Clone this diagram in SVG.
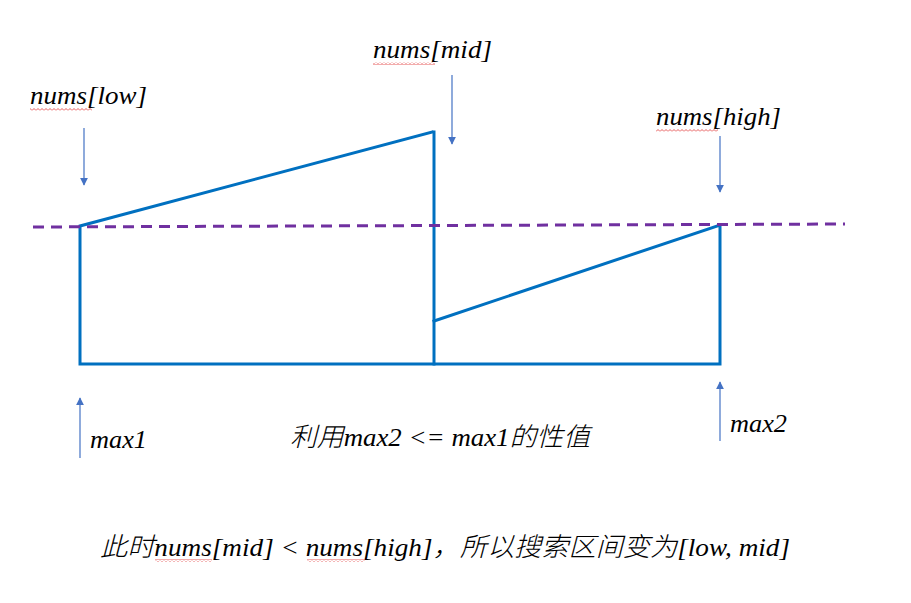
<svg xmlns="http://www.w3.org/2000/svg" width="911" height="603" viewBox="0 0 911 603">
<defs>
<marker id="ah" viewBox="0 0 10 10" refX="9" refY="5" markerWidth="8" markerHeight="8" markerUnits="userSpaceOnUse" orient="auto">
<path d="M0,0 L10,5 L0,10 z" fill="#4472C4"/>
</marker>
<pattern id="wave" x="0" y="0" width="4" height="3" patternUnits="userSpaceOnUse">
<polyline points="0,2.5 2,0.5 4,2.5" fill="none" stroke="#E03030" stroke-width="0.8"/>
</pattern>
<style>
.shape{fill:none;stroke:#0070C0;stroke-width:3;stroke-linecap:square;stroke-linejoin:miter}
.dash{fill:none;stroke:#7030A0;stroke-width:3;stroke-dasharray:11 7}
.arr{stroke:#4472C4;stroke-width:1.2;fill:none;marker-end:url(#ah)}
.t{font-family:"Liberation Serif","Times New Roman",serif;font-style:italic;font-size:26px;fill:#000}
.c{font-family:"Noto Sans CJK SC",sans-serif;font-style:italic;font-weight:300}
.sq{fill:url(#wave)}
</style>
</defs>
<rect width="911" height="603" fill="#fff"/>
<g id="shape">
<polyline class="shape" points="432,132 80,226 80,364 720,364 720,225 434,321"/>
<line class="shape" x1="434" y1="132" x2="434" y2="364"/>
</g>
<g id="threshold">
<line class="dash" x1="33" y1="227" x2="845" y2="224"/>
</g>
<g id="connectors">
<line class="arr" x1="84" y1="128" x2="84" y2="185"/>
<line class="arr" x1="452" y1="75" x2="452" y2="144"/>
<line class="arr" x1="720" y1="136" x2="720" y2="192"/>
<line class="arr" x1="80" y1="458" x2="80" y2="398"/>
<line class="arr" x1="720" y1="441" x2="720" y2="382"/>
</g>
<g id="label-low"><text class="t" x="30" y="104" textLength="117" lengthAdjust="spacingAndGlyphs">nums[low]</text><rect class="sq" x="30" y="108" width="62" height="3"/></g>
<g id="label-mid"><text class="t" x="373" y="58" textLength="119" lengthAdjust="spacingAndGlyphs">nums[mid]</text><rect class="sq" x="373" y="62" width="62" height="3"/></g>
<g id="label-high"><text class="t" x="656" y="125" textLength="125" lengthAdjust="spacingAndGlyphs">nums[high]</text><rect class="sq" x="656" y="129" width="62" height="3"/></g>
<g id="label-max1"><text class="t" x="90" y="448" textLength="57" lengthAdjust="spacingAndGlyphs">max1</text></g>
<g id="label-max2"><text class="t" x="730" y="432" textLength="57" lengthAdjust="spacingAndGlyphs">max2</text></g>
<g id="label-note"><text class="t" x="290" y="446" textLength="300" lengthAdjust="spacingAndGlyphs"><tspan class="c">利用</tspan>max2 &lt;= max1<tspan class="c">的性值</tspan></text></g>
<g id="label-bottom"><text class="t" x="100" y="556" textLength="690" lengthAdjust="spacingAndGlyphs"><tspan class="c">此时</tspan>nums[mid] &lt; nums[high]<tspan class="c">，所以搜索区间变为</tspan>[low, mid]</text>
<rect class="sq" x="155" y="559" width="57" height="3"/><rect class="sq" x="307" y="559" width="58" height="3"/></g>
</svg>
